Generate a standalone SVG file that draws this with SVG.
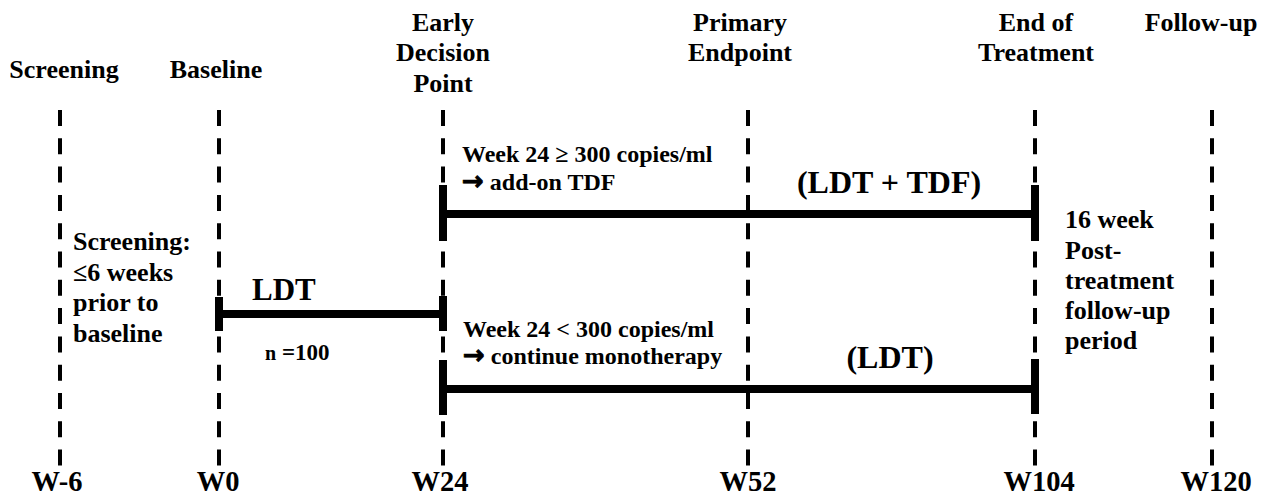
<svg xmlns="http://www.w3.org/2000/svg" width="1269" height="495" viewBox="0 0 1269 495">
<style>
text{font-weight:bold;fill:#000}
.hd{font-size:26px;text-anchor:middle}
.wk{font-size:28.5px;text-anchor:middle}
.nt{font-size:26px}
.sm{font-size:24px}
.big{font-size:32px;text-anchor:middle}
.arr{font-family:"DejaVu Sans",sans-serif;font-size:26px;stroke:#000;stroke-width:0.9}
.dash{stroke:#000;stroke-width:4;stroke-dasharray:16 12.3;fill:none}
.bar{stroke:#000;stroke-width:8;fill:none}
.cap{stroke:#000;stroke-width:8;fill:none}
</style>
<rect width="1269" height="495" fill="#fff"/>
<g font-family="'Liberation Serif', Tinos, 'Times New Roman', 'DejaVu Serif', serif">
<g id="milestone-screening">
<text class="hd" x="64" y="78">Screening</text>
<line class="dash" x1="60" y1="110" x2="60" y2="466"/>
<text class="wk" x="57" y="491">W-6</text>
</g>
<g id="milestone-baseline">
<text class="hd" x="216" y="78">Baseline</text>
<line class="dash" x1="219" y1="110" x2="219" y2="466"/>
<text class="wk" x="218" y="491">W0</text>
</g>
<g id="milestone-early-decision">
<text class="hd" x="443" y="31">Early</text>
<text class="hd" x="443" y="61">Decision</text>
<text class="hd" x="443" y="92">Point</text>
<line class="dash" x1="443" y1="110" x2="443" y2="466"/>
<text class="wk" x="440" y="491">W24</text>
</g>
<g id="milestone-primary-endpoint">
<text class="hd" x="740" y="31">Primary</text>
<text class="hd" x="740" y="61">Endpoint</text>
<line class="dash" x1="748" y1="110" x2="748" y2="466"/>
<text class="wk" x="748" y="491">W52</text>
</g>
<g id="milestone-end-of-treatment">
<text class="hd" x="1036" y="31">End of</text>
<text class="hd" x="1036" y="61">Treatment</text>
<line class="dash" x1="1035" y1="110" x2="1035" y2="466"/>
<text class="wk" x="1039" y="491">W104</text>
</g>
<g id="milestone-follow-up">
<text class="hd" x="1201" y="31">Follow-up</text>
<line class="dash" x1="1212" y1="110" x2="1212" y2="466"/>
<text class="wk" x="1216" y="491">W120</text>
</g>
<g id="screening-note">
<text class="nt" x="73" y="250">Screening:</text>
<text class="nt" x="73" y="280.5">≤6 weeks</text>
<text class="nt" x="73" y="311">prior to</text>
<text class="nt" x="73" y="341.5">baseline</text>
</g>
<g id="followup-note">
<text class="nt" x="1065" y="228">16 week</text>
<text class="nt" x="1065" y="258.5">Post-</text>
<text class="nt" x="1065" y="289">treatment</text>
<text class="nt" x="1065" y="319">follow-up</text>
<text class="nt" x="1065" y="349">period</text>
</g>
<g id="connectors">
<g id="bar-ldt">
<line class="bar" x1="219" y1="314" x2="443" y2="314"/>
<line class="cap" x1="219" y1="297" x2="219" y2="331"/>
<line class="cap" x1="443" y1="296" x2="443" y2="331"/>
</g>
<g id="bar-ldt-tdf">
<line class="bar" x1="443" y1="214" x2="1035" y2="214"/>
<line class="cap" x1="443" y1="185" x2="443" y2="241"/>
<line class="cap" x1="1035" y1="185" x2="1035" y2="241"/>
</g>
<g id="bar-ldt-mono">
<line class="bar" x1="443" y1="389" x2="1035" y2="389"/>
<line class="cap" x1="443" y1="360" x2="443" y2="415"/>
<line class="cap" x1="1035" y1="359" x2="1035" y2="414"/>
</g>
</g>
<g id="label-ldt">
<text x="252" y="300" font-size="31">LDT</text>
<text x="265" y="360" font-size="23"><tspan font-size="20">n</tspan> =100</text>
</g>
<g id="label-addon">
<text class="sm" x="462" y="162">Week 24 ≥ 300 copies/ml</text>
<text class="sm" x="462" y="190"><tspan class="arr">→</tspan> add-on TDF</text>
<text class="big" x="889" y="193">(LDT + TDF)</text>
</g>
<g id="label-mono">
<text class="sm" x="463" y="337">Week 24 &lt; 300 copies/ml</text>
<text class="sm" x="463" y="364"><tspan class="arr">→</tspan> continue monotherapy</text>
<text class="big" x="890" y="368">(LDT)</text>
</g>
</g>
</svg>
